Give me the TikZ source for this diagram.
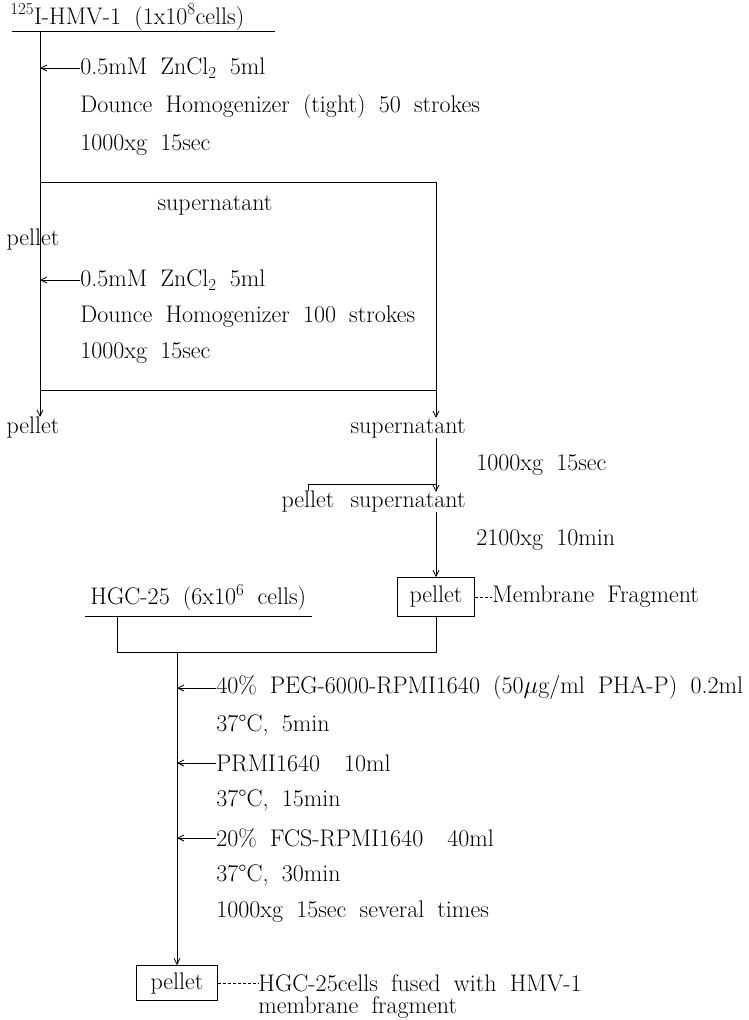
\documentclass[tikz,border=0pt]{standalone}
\usepackage{fontspec}
\usepackage{tikz}
\usetikzlibrary{arrows.meta,positioning,calc}
\newcommand{\figfont}{\fontsize{24}{29}\selectfont\spaceskip=0.55em\relax}
\tikzset{
  >={Straight Barb[length=6pt,width=6pt]},
  txt/.style={font=\figfont, inner sep=0pt, anchor=west},
  pbox/.style={draw, font=\figfont, inner sep=0pt, minimum width=77pt, minimum height=39pt},
  flow/.style={->, line width=0.8pt},
  feed/.style={->, line width=0.8pt},
  tie/.style={line width=0.8pt, dash pattern=on 3pt off 2pt},
}

\begin{document}
\begin{tikzpicture}[x=1pt, y=-1pt, line width=0.8pt]
  \useasboundingbox (0,0) rectangle (748,1020);

  % first homogenization
  \node[txt, anchor=base west] (hmv) at (10,24) {\textsuperscript{125}I-HMV-1 (1x10\textsuperscript{8}cells)};
  \draw (12,31) -- (275,31);
  \coordinate (m0) at (40,31);
  \coordinate (b1) at (40,182);
  \coordinate (b2) at (436,182);
  \coordinate (b3) at (436,390);
  \coordinate (b4) at (40,390);
  \draw (m0) -- (b4);
  \draw (b1) -- (b2) -- (b3) -- (b4);

  \node[txt] (zn1) at (80,68)  {0.5mM ZnCl\textsubscript{2} 5ml};
  \node[txt] (dh1) at (80,107) {Dounce Homogenizer (tight) 50 strokes};
  \node[txt] (cf1) at (80,145) {1000xg 15sec};
  \draw[feed] (zn1.west) -- (zn1.west -| m0);

  \node[txt, anchor=center] (sup1) at (215,205) {supernatant};
  \node[txt, anchor=center] (pel1) at (33,240)  {pellet};

  % second homogenization
  \node[txt] (zn2) at (80,280) {0.5mM ZnCl\textsubscript{2} 5ml};
  \node[txt] (dh2) at (80,317) {Dounce Homogenizer 100 strokes};
  \node[txt] (cf2) at (80,353) {1000xg 15sec};
  \draw[feed] (zn2.west) -- (zn2.west -| m0);

  \node[txt, anchor=center] (pel2) at (33,428)  {pellet};
  \node[txt, anchor=center] (sup2) at (408,428) {supernatant};
  \draw[flow] (b4) -- (pel2.north -| b4);
  \draw[flow] (b3) -- (sup2.north -| b3);

  % centrifugation of supernatant
  \coordinate (split) at (436,484);
  \node[txt] (cf3) at (476,465) {1000xg 15sec};
  \node[txt, anchor=center] (pel3) at (308,502) {pellet};
  \node[txt, anchor=center] (sup3) at (408,502) {supernatant};
  \draw (sup2.south -| split) -- (split);
  \draw[flow] (split) -- (sup3.north -| split);
  \draw (split) -- (split -| pel3) -- (pel3.north);

  \node[txt] (cf4) at (476,540) {2100xg 10min};
  \node[pbox] (memb) at (436,597) {pellet};
  \draw[flow] (sup3.south -| memb) -- (memb.north);
  \node[txt] (mf) at (492,597) {Membrane Fragment};
  \draw[tie] (memb.east) -- (mf.west);

  % fusion
  \node[txt] (hgc) at (90,597) {HGC-25 (6x10\textsuperscript{6} cells)};
  \draw (85,616) -- (312,616);
  \coordinate (j1) at (117,616);
  \coordinate (j2) at (117,652);
  \coordinate (j3) at (436,652);
  \coordinate (m1) at (177,652);
  \draw (j1) -- (j2) -- (j3) -- (memb.south);

  \node[txt] (peg) at (216,688) {40\% PEG-6000-RPMI1640 (50$\mu$g/ml PHA-P) 0.2ml};
  \node[txt] (t1)  at (216,725) {37\textdegree C, 5min};
  \node[txt] (rp)  at (216,763) {PRMI1640\hspace{1em}10ml};
  \node[txt] (t2)  at (216,800) {37\textdegree C, 15min};
  \node[txt] (fcs) at (216,838) {20\% FCS-RPMI1640\hspace{1em}40ml};
  \node[txt] (t3)  at (216,875) {37\textdegree C, 30min};
  \node[txt] (cf5) at (216,912) {1000xg 15sec several times};
  \foreach \n in {peg,rp,fcs}
    \draw[feed] (\n.west) -- (\n.west -| m1);

  \node[pbox, minimum width=81pt, minimum height=35pt] (fus) at (177,983) {pellet};
  \draw[flow] (m1) -- (fus.north);
  \node[txt] (fl1) at (258,983)  {HGC-25cells fused with HMV-1};
  \node[txt] (fl2) at (258,1008) {membrane fragment};
  \draw[tie] (fus.east) -- (fl1.west);
\end{tikzpicture}
\end{document}
